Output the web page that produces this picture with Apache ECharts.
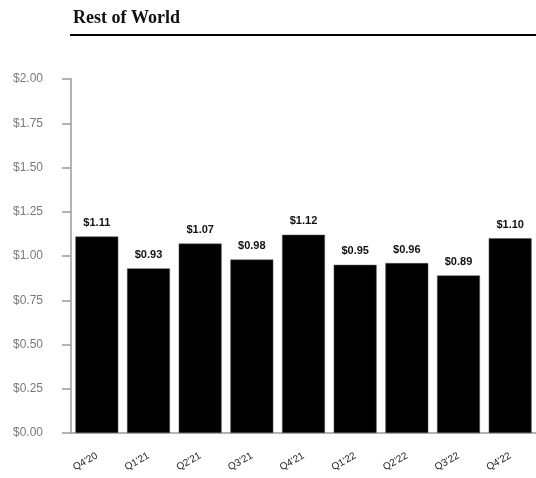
<!DOCTYPE html>
<html>
<head>
<meta charset="utf-8">
<script src="https://cdn.jsdelivr.net/npm/echarts@6/dist/echarts.min.js"></script>
<style>
  html, body { margin: 0; padding: 0; background: #fff; }
  #chart { width: 536px; height: 478px; }
</style>
</head>
<body>
<div id="chart"></div>
<script>
// Quarterly figures for the Rest of World region
const quarters = ["Q4'20", "Q1'21", "Q2'21", "Q3'21", "Q4'21", "Q1'22", "Q2'22", "Q3'22", "Q4'22"];
const values = [1.11, 0.93, 1.07, 0.98, 1.12, 0.95, 0.96, 0.89, 1.10];
const chartTitle = 'Rest of World';

const money = v => '$' + Number(v).toFixed(2);

const chart = echarts.init(document.getElementById('chart'));
chart.setOption({
  animation: false,
  backgroundColor: '#fff',
  graphic: [
    {
      type: 'text',
      left: 73,
      top: 9,
      style: {
        text: chartTitle,
        font: 'bold 18px "Liberation Serif", "Times New Roman", serif',
        fill: '#111'
      }
    },
    {
      type: 'rect',
      shape: { x: 70, y: 34, width: 466, height: 2 },
      style: { fill: '#000' }
    }
  ],
  grid: { left: 71, right: 0, top: 79, bottom: 45 },
  xAxis: {
    type: 'category',
    data: quarters,
    axisLine: { lineStyle: { color: '#9a9a9a', width: 1.5 } },
    axisTick: { show: false },
    axisLabel: {
      rotate: 30,
      margin: 22,
      color: '#222',
      fontFamily: 'Liberation Sans, Arial, sans-serif',
      fontSize: 10
    }
  },
  yAxis: {
    type: 'value',
    min: 0,
    max: 2,
    interval: 0.25,
    axisLine: { show: true, lineStyle: { color: '#9a9a9a', width: 1.5 } },
    axisTick: { show: true, length: 9, lineStyle: { color: '#9a9a9a', width: 1.5 } },
    splitLine: { show: false },
    axisLabel: {
      formatter: money,
      margin: 28,
      color: '#7a7a7a',
      fontFamily: 'Liberation Sans, Arial, sans-serif',
      fontSize: 12
    }
  },
  series: [{
    type: 'bar',
    data: values,
    barCategoryGap: '17%',
    itemStyle: { color: '#000', borderColor: '#555', borderWidth: 0.5 },
    label: {
      show: true,
      position: 'top',
      distance: 8,
      formatter: p => money(p.value),
      color: '#111',
      fontWeight: 'bold',
      fontFamily: 'Liberation Sans, Arial, sans-serif',
      fontSize: 11
    }
  }]
});
</script>
</body>
</html>
